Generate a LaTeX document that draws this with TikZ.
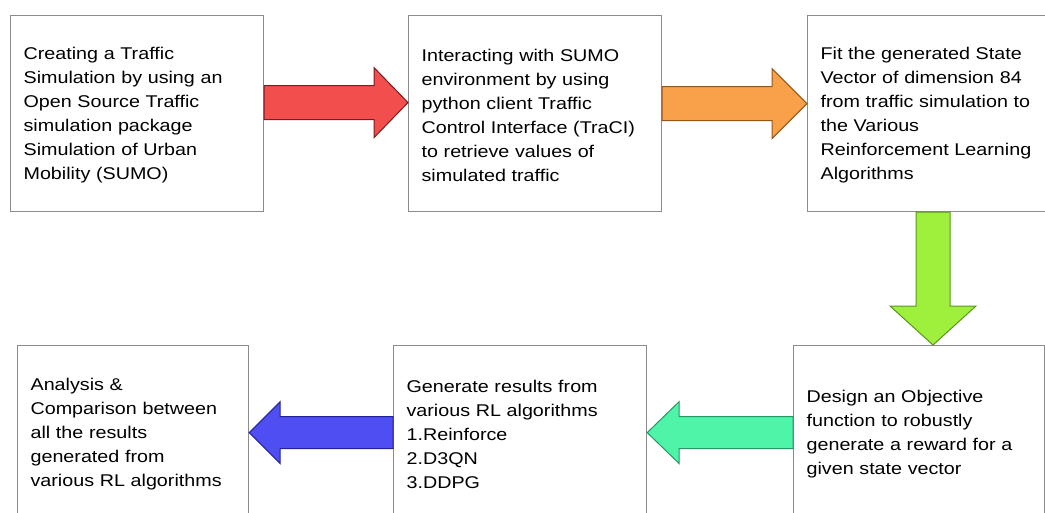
\documentclass[tikz,border=0pt]{standalone}
\usepackage{fontspec}
\setmainfont[FakeStretch=1.16]{Liberation Sans}
\usetikzlibrary{calc}

\definecolor{boxgray}{RGB}{140,140,140}
\definecolor{redfill}{RGB}{242,78,78}
\definecolor{redline}{RGB}{130,25,25}
\definecolor{orangefill}{RGB}{249,161,72}
\definecolor{orangeline}{RGB}{150,85,25}
\definecolor{limefill}{RGB}{158,240,60}
\definecolor{limeline}{RGB}{90,150,30}
\definecolor{tealfill}{RGB}{78,245,168}
\definecolor{tealline}{RGB}{40,150,100}
\definecolor{bluefill}{RGB}{78,78,242}
\definecolor{blueline}{RGB}{35,35,150}

\begin{document}
\begin{tikzpicture}[x=1pt,y=-1pt,
  stepbox/.style={draw=boxgray,line width=1.2pt,rectangle,anchor=north west,
    inner xsep=13pt,inner ysep=0pt,align=left,text height=16pt,
    font=\fontsize{17}{24}\selectfont},
  toprow/.style={stepbox,minimum height=196pt},
  bottomrow/.style={stepbox,minimum height=174pt},
  redarrow/.style={fill=redfill,draw=redline,line width=1pt},
  orangearrow/.style={fill=orangefill,draw=orangeline,line width=1pt},
  limearrow/.style={fill=limefill,draw=limeline,line width=1pt},
  tealarrow/.style={fill=tealfill,draw=tealline,line width=1pt},
  bluearrow/.style={fill=bluefill,draw=blueline,line width=1pt}]
\useasboundingbox (0,0) rectangle (1045,512);

\node[toprow,text width=227pt] (sim) at (10,15) {Creating a Traffic\\Simulation by using an\\Open Source Traffic\\simulation package\\Simulation of Urban\\Mobility (SUMO)};
\node[toprow,text width=227pt] (traci) at (408,15) {Interacting with SUMO\\environment by using\\python client Traffic\\Control Interface (TraCI)\\to retrieve values of\\simulated traffic};
\node[toprow,text width=234pt] (fit) at (807,15) {Fit the generated State\\Vector of dimension 84\\from traffic simulation to\\the Various\\Reinforcement Learning\\Algorithms};

\node[bottomrow,text width=205pt] (analysis) at (17,345) {Analysis \&\\Comparison between\\all the results\\generated from\\various RL algorithms};
\node[bottomrow,text width=227pt] (results) at (393,345) {Generate results from\\various RL algorithms\\1.Reinforce\\2.D3QN\\3.DDPG};
\node[bottomrow,text width=225pt] (reward) at (793,345) {Design an Objective\\function to robustly\\generate a reward for a\\given state vector};

% block arrows
\coordinate (r1) at ($(sim.east)+(0,-11)$);
\coordinate (r2) at ($(traci.west)+(0,-11)$);
\filldraw[redarrow] ($(r1)+(0,-17)$) -- ($(r2)+(-34,-17)$) -- ($(r2)+(-34,-35)$) -- (r2) -- ($(r2)+(-34,35)$) -- ($(r2)+(-34,17)$) -- ($(r1)+(0,17)$) -- cycle;

\coordinate (o1) at ($(traci.east)+(0,-10)$);
\coordinate (o2) at ($(fit.west)+(0,-10)$);
\filldraw[orangearrow] ($(o1)+(0,-17)$) -- ($(o2)+(-35,-17)$) -- ($(o2)+(-35,-35)$) -- (o2) -- ($(o2)+(-35,35)$) -- ($(o2)+(-35,17)$) -- ($(o1)+(0,17)$) -- cycle;

\coordinate (g1) at ($(fit.south west)+(126,0)$);
\coordinate (g2) at ($(reward.north west)+(140,0)$);
\filldraw[limearrow] ($(g1)+(-17,0)$) -- ($(g2)+(-17,-39)$) -- ($(g2)+(-43,-39)$) -- (g2) -- ($(g2)+(43,-39)$) -- ($(g2)+(17,-39)$) -- ($(g1)+(17,0)$) -- cycle;

\coordinate (t1) at (reward.west);
\coordinate (t2) at (results.east);
\filldraw[tealarrow] ($(t1)+(0,-16)$) -- ($(t2)+(32,-16)$) -- ($(t2)+(32,-31)$) -- (t2) -- ($(t2)+(32,31)$) -- ($(t2)+(32,16)$) -- ($(t1)+(0,16)$) -- cycle;

\coordinate (u1) at (results.west);
\coordinate (u2) at (analysis.east);
\filldraw[bluearrow] ($(u1)+(0,-16)$) -- ($(u2)+(31,-16)$) -- ($(u2)+(31,-31)$) -- (u2) -- ($(u2)+(31,31)$) -- ($(u2)+(31,16)$) -- ($(u1)+(0,16)$) -- cycle;
\end{tikzpicture}
\end{document}
